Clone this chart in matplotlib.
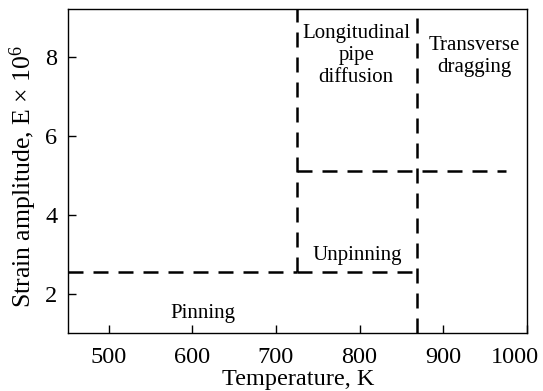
import matplotlib
matplotlib.use("Agg")
import matplotlib.pyplot as plt
from matplotlib.transforms import ScaledTranslation

plt.rcParams['font.family'] = ['Liberation Serif', 'DejaVu Serif']
plt.rcParams['mathtext.fontset'] = 'custom'
plt.rcParams['mathtext.rm'] = 'Liberation Serif'
plt.rcParams['mathtext.it'] = 'Liberation Serif:italic'

# Data
xlim = (452, 1000)
ylim = (1.0, 9.2)
x_ticks = [500, 600, 700, 800, 900, 1000]
y_ticks = [2, 4, 6, 8]

# boundary lines (x list, y list)
lower_left_x = [452, 725]; lower_left_y = [2.55, 2.55]
lower_mid_x = [725, 862]; lower_mid_y = [2.55, 2.55]
upper_x = [725, 975]; upper_y = [5.1, 5.1]
vert_left_x = [725, 725]; vert_left_y = [2.55, 9.2]
vert_right_x = [868, 868]; vert_right_y = [1.0, 9.2]

labels = [
    ("Longitudinal\npipe\ndiffusion", 796, 8.82),
    ("Transverse\ndragging", 937, 8.52),
    ("Unpinning", 797, 3.2),
    ("Pinning", 613, 1.75),
]

fig = plt.figure(figsize=(5.43, 3.91), dpi=100)
ax = fig.add_axes([0.126, 0.148, 0.8445, 0.828])

style = dict(color='black', lw=1.8, linestyle=(0, (6, 4)))
for xs, ys in [(lower_left_x, lower_left_y), (lower_mid_x, lower_mid_y),
               (upper_x, upper_y), (vert_left_x, vert_left_y),
               (vert_right_x, vert_right_y)]:
    ax.plot(xs, ys, **style)

for txt, x, y in labels:
    ax.text(x, y, txt, ha='center', va='top', fontsize=15, linespacing=1.2)

ax.set_xlim(*xlim)
ax.set_ylim(*ylim)
ax.set_xticks(x_ticks)
ax.set_yticks(y_ticks)
ax.tick_params(direction='in', length=6, width=1, labelsize=17.5, top=False, right=False)
ax.tick_params(axis='x', pad=10)
ax.tick_params(axis='y', pad=8)
for lbl in ax.get_xticklabels():
    if lbl.get_text() == '1000':
        lbl.set_transform(lbl.get_transform() + ScaledTranslation(-0.12, 0, fig.dpi_scale_trans))
ax.set_xlabel("Temperature, K", fontsize=17.5, labelpad=1)
ax.set_ylabel("Strain amplitude, E × 10$^{6}$", fontsize=18.5)
ax.yaxis.set_label_coords(-0.064, 0.485)
for s in ax.spines.values():
    s.set_linewidth(1.0)

fig.savefig("out.png", dpi=100)
